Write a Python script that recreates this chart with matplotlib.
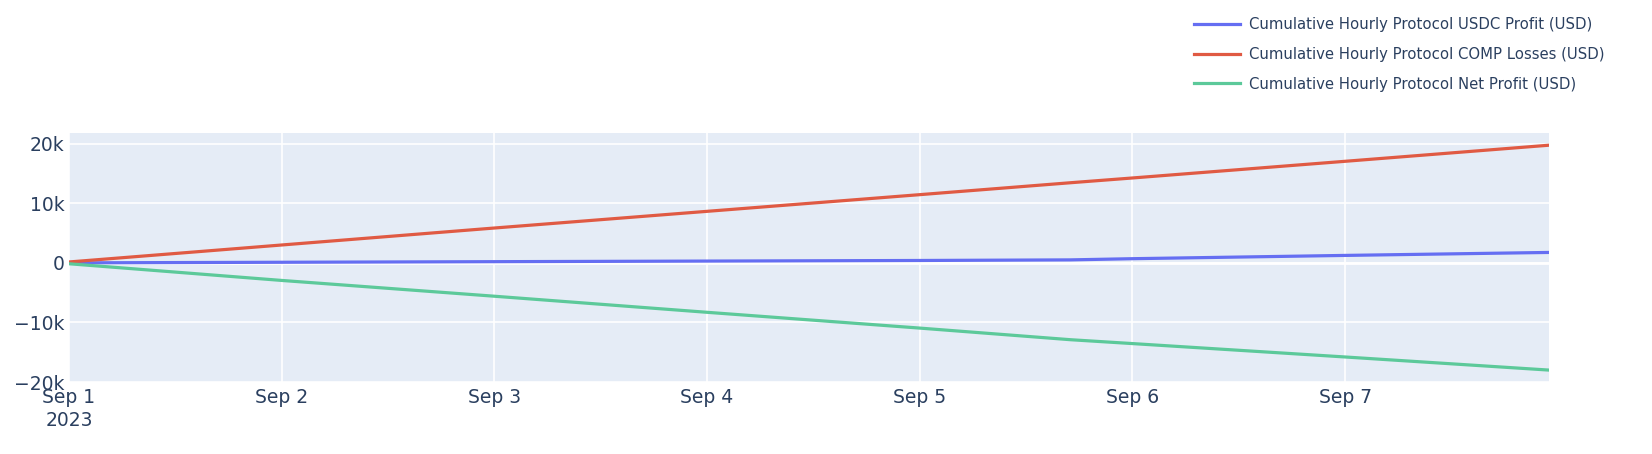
import matplotlib
matplotlib.use("Agg")
import matplotlib.pyplot as plt
from matplotlib.ticker import FuncFormatter
import pandas as pd

# Data (values in USD)
timestamps = ["2023-09-01 00:00", "2023-09-02 00:00", "2023-09-03 00:00",
              "2023-09-04 00:00", "2023-09-05 00:00", "2023-09-05 17:00",
              "2023-09-06 00:00", "2023-09-07 00:00", "2023-09-07 23:00"]
usdc_profit = [0, 100, 200, 300, 400, 500, 700, 1250, 1750]
comp_losses = [150, 3000, 5850, 8650, 11450, 13450, 14250, 17050, 19750]
net_profit = [-150, -2950, -5600, -8300, -10950, -12900, -13550, -15800, -18000]

labels = ["Cumulative Hourly Protocol USDC Profit (USD)",
          "Cumulative Hourly Protocol COMP Losses (USD)",
          "Cumulative Hourly Protocol Net Profit (USD)"]
colors = ["#656ef2", "#e05a43", "#5cc99a"]

x_ticks = ["2023-09-01", "2023-09-02", "2023-09-03", "2023-09-04",
           "2023-09-05", "2023-09-06", "2023-09-07"]
x_tick_labels = ["Sep 1\n2023", "Sep 2", "Sep 3", "Sep 4", "Sep 5", "Sep 6", "Sep 7"]
y_ticks = [-20000, -10000, 0, 10000, 20000]

plt.rcParams['font.family'] = ['DejaVu Sans']
text_color = "#2a3f5f"

W, H = 1652, 454
fig = plt.figure(figsize=(W / 100, H / 100), dpi=100)
# plot area in pixels: left 69, right 1549, top 133, bottom 382
ax = fig.add_axes([69 / W, 1 - 382 / H, (1549 - 69) / W, (382 - 133) / H])
ax.set_facecolor("#E5ECF6")

t = pd.to_datetime(timestamps)
series = [usdc_profit, comp_losses, net_profit]
for vals, lab, col in zip(series, labels, colors):
    ax.plot(t, vals, color=col, lw=2.3, label=lab, zorder=3)

ax.set_xlim(pd.Timestamp("2023-09-01 00:00"), pd.Timestamp("2023-09-07 23:00"))
ax.set_ylim(-20000, 21800)

ax.set_xticks(pd.to_datetime(x_ticks))
ax.set_xticklabels(x_tick_labels, linespacing=1.3)
ax.set_yticks(y_ticks)
ax.yaxis.set_major_formatter(FuncFormatter(
    lambda v, p: "0" if v == 0 else f"{v / 1000:.0f}k".replace("-", "\u2212")))

ax.grid(True, color="white", lw=1.2, zorder=1)
ax.axhline(0, color="white", lw=2.0, zorder=2)
for s in ax.spines.values():
    s.set_visible(False)
ax.tick_params(axis='both', length=0, labelsize=13.5, labelcolor=text_color)
ax.tick_params(axis='x', pad=4)
ax.tick_params(axis='y', pad=3)

leg = fig.legend(loc="upper left", bbox_to_anchor=(1188 / W, 1 - 11 / H),
                 frameon=False, fontsize=10.7, handlelength=3.1,
                 handletextpad=0.6, labelspacing=1.0, borderaxespad=0)
for txt in leg.get_texts():
    txt.set_color(text_color)

fig.savefig("out.png", dpi=100)
